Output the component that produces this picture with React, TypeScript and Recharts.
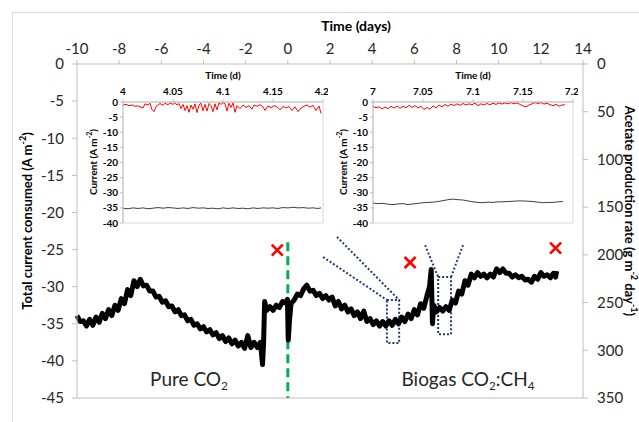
import React from 'react';
import {
  ComposedChart,
  LineChart,
  Line,
  Scatter,
  XAxis,
  YAxis,
  ReferenceLine,
  ReferenceArea,
} from 'recharts';

// total current consumed (A m-2) over time (days)
const totalCurrent: [number, number][] = [
  [-10.0, -33.9], [-9.85, -34.7], [-9.7, -34.6], [-9.55, -35.3], [-9.4, -34.4], [-9.25, -35.2],
  [-9.1, -34.1], [-8.95, -34.8], [-8.8, -33.6], [-8.65, -34.3], [-8.5, -33.1], [-8.35, -33.9],
  [-8.2, -32.5], [-8.05, -33.2], [-7.9, -31.6], [-7.75, -32.3], [-7.6, -30.4], [-7.45, -31.2],
  [-7.3, -29.2], [-7.15, -30.0], [-7.0, -29.0], [-6.85, -29.9], [-6.7, -29.8], [-6.55, -30.6],
  [-6.4, -30.6], [-6.25, -31.4], [-6.1, -31.3], [-5.95, -32.1], [-5.8, -31.9], [-5.65, -32.7],
  [-5.5, -32.6], [-5.35, -33.4], [-5.2, -33.1], [-5.05, -33.9], [-4.9, -33.8], [-4.75, -34.6],
  [-4.6, -34.4], [-4.45, -35.2], [-4.3, -35.0], [-4.15, -35.7], [-4.0, -35.4], [-3.85, -36.1],
  [-3.7, -35.8], [-3.55, -36.5], [-3.4, -36.2], [-3.25, -37.0], [-3.1, -36.6], [-2.95, -37.4],
  [-2.8, -36.9], [-2.65, -37.7], [-2.5, -37.2], [-2.35, -38.0], [-2.2, -37.5], [-2.05, -38.3],
  [-1.9, -36.6], [-1.75, -38.2], [-1.6, -37.5], [-1.45, -38.2], [-1.3, -37.5], [-1.2, -40.5],
  [-1.15, -37.5], [-1.1, -32.0], [-1.0, -33.2], [-0.85, -32.7], [-0.7, -33.2], [-0.55, -32.5],
  [-0.4, -32.8], [-0.25, -32.0], [-0.1, -32.2], [-0.02, -31.7], [0.02, -37.2], [0.08, -34.5],
  [0.15, -32.3], [0.3, -31.8], [0.45, -31.0], [0.6, -31.2], [0.75, -30.3], [0.9, -29.8],
  [1.05, -30.6], [1.2, -30.5], [1.35, -31.2], [1.5, -30.9], [1.65, -31.6], [1.8, -31.2],
  [1.95, -31.8], [2.1, -31.4], [2.25, -32.6], [2.4, -32.0], [2.55, -33.0], [2.7, -32.5],
  [2.85, -33.4], [3.0, -33.0], [3.15, -33.9], [3.3, -33.4], [3.45, -34.3], [3.6, -33.3],
  [3.75, -34.7], [3.9, -34.3], [4.05, -35.1], [4.2, -34.6], [4.35, -35.3], [4.5, -34.7],
  [4.65, -35.3], [4.8, -34.6], [4.95, -35.2], [5.1, -34.4], [5.25, -35.0], [5.4, -34.1],
  [5.55, -34.7], [5.7, -33.7], [5.85, -34.3], [6.0, -33.1], [6.15, -33.8], [6.3, -32.3],
  [6.45, -32.9], [6.6, -31.2], [6.72, -30.0], [6.8, -27.7], [6.86, -35.0], [6.92, -32.5],
  [7.05, -33.4], [7.2, -32.8], [7.35, -33.3], [7.5, -32.7], [7.65, -33.2], [7.8, -31.8],
  [7.95, -32.2], [8.1, -30.6], [8.25, -31.0], [8.4, -29.2], [8.55, -29.8], [8.7, -28.3],
  [8.85, -28.8], [9.0, -28.1], [9.15, -28.6], [9.3, -28.3], [9.45, -28.8], [9.6, -28.3],
  [9.75, -28.7], [9.9, -27.6], [10.05, -28.1], [10.2, -27.6], [10.35, -28.2], [10.5, -28.2],
  [10.65, -28.7], [10.8, -28.4], [10.95, -28.8], [11.1, -28.6], [11.25, -29.1], [11.4, -29.0],
  [11.55, -29.4], [11.7, -28.6], [11.85, -29.0], [12.0, -28.1], [12.15, -28.6], [12.3, -28.4],
  [12.45, -28.8], [12.6, -28.2], [12.7, -28.7], [12.75, -27.9],
];

// acetate production rate (g m-2 day-1), right axis
const acetateDays = [-0.5, 5.8, 12.7];
const acetateRate = [195, 208, 193];

// zoom windows drawn on the main trace
const zoomBoxes = [
  { x1: 4.7, x2: 5.28, y1: -37.6, y2: -31.8 },
  { x1: 7.13, x2: 7.74, y1: -36.4, y2: -28.7 },
];
const zoomLines = [
  [[1.67, -26.0], [4.7, -31.8]],
  [[2.33, -23.3], [5.28, -31.8]],
  [[6.51, -24.4], [7.13, -28.7]],
  [[8.31, -24.4], [7.74, -28.7]],
];

const dayTicks = [-10, -8, -6, -4, -2, 0, 2, 4, 6, 8, 10, 12, 14];
const currentTicks = [-45, -40, -35, -30, -25, -20, -15, -10, -5, 0];
const rateTicks = [0, 50, 100, 150, 200, 250, 300, 350];

// inset 1: day 4.0 - 4.2
const inset1Red: [number, number][] = [
  [4.0, -1.0], [4.003, -0.8], [4.006, -1.2], [4.009, -1.0], [4.012, -1.4], [4.015, -1.3],
  [4.018, -1.7], [4.02, -2.0], [4.022, -0.6], [4.025, -1.0], [4.027, -0.4], [4.029, -2.5],
  [4.031, -3.2], [4.033, -1.5], [4.035, -1.0], [4.037, -0.5], [4.04, -1.1], [4.042, -0.4],
  [4.045, -0.9], [4.047, -0.3], [4.05, -0.8], [4.052, -0.2], [4.054, -1.0], [4.056, -0.5],
  [4.058, -2.2], [4.06, -0.8], [4.062, -2.8], [4.064, -1.2], [4.066, -3.4], [4.068, -1.0],
  [4.07, -2.4], [4.072, -0.6], [4.074, -3.5], [4.076, -1.0], [4.078, -0.4], [4.08, -2.9],
  [4.082, -0.8], [4.084, -3.0], [4.086, -0.5], [4.088, -1.2], [4.09, -3.2], [4.092, -0.6],
  [4.094, -2.6], [4.096, -0.3], [4.098, -0.8], [4.1, -0.2], [4.102, -0.6], [4.104, -3.0],
  [4.106, -0.4], [4.108, -1.8], [4.11, -0.3], [4.112, -3.4], [4.114, -1.2], [4.117, -2.2],
  [4.12, -1.0], [4.123, -1.8], [4.126, -1.2], [4.129, -2.4], [4.131, -1.0], [4.134, -1.4],
  [4.137, -0.9], [4.14, -1.6], [4.142, -2.8], [4.145, -1.3], [4.148, -1.9], [4.151, -1.2],
  [4.154, -1.6], [4.157, -2.6], [4.16, -1.4], [4.163, -2.0], [4.166, -1.5], [4.169, -2.8],
  [4.172, -1.6], [4.175, -3.2], [4.178, -2.0], [4.181, -1.4], [4.184, -1.0], [4.187, -1.7],
  [4.19, -1.1], [4.193, -2.8], [4.196, -1.3], [4.198, -3.8],
];
const inset1Grey: [number, number][] = [
  [4.0, -35.1], [4.005, -35.3], [4.01, -35.0], [4.015, -35.2], [4.02, -35.0], [4.025, -35.3],
  [4.03, -35.1], [4.035, -34.9], [4.04, -35.1], [4.045, -34.9], [4.05, -35.0], [4.055, -35.2],
  [4.06, -35.0], [4.065, -35.2], [4.07, -34.9], [4.075, -35.1], [4.08, -35.0], [4.085, -35.2],
  [4.09, -35.1], [4.095, -35.3], [4.1, -35.0], [4.105, -35.2], [4.11, -35.0], [4.115, -35.2],
  [4.12, -35.1], [4.125, -35.3], [4.13, -35.0], [4.135, -35.2], [4.14, -35.0], [4.145, -35.1],
  [4.15, -35.0], [4.155, -35.2], [4.16, -34.9], [4.165, -35.0], [4.17, -34.8], [4.175, -35.0],
  [4.18, -34.9], [4.185, -35.1], [4.19, -35.0], [4.195, -35.2], [4.198, -35.0],
];

// inset 2: day 7.0 - 7.2
const inset2Red: [number, number][] = [
  [7.0, -1.5], [7.003, -1.9], [7.006, -1.6], [7.009, -2.3], [7.012, -1.7], [7.015, -2.2],
  [7.018, -1.4], [7.021, -2.0], [7.024, -1.3], [7.027, -2.1], [7.03, -1.4], [7.033, -1.9],
  [7.036, -1.1], [7.039, -1.8], [7.042, -1.2], [7.045, -2.0], [7.048, -1.4], [7.051, -2.5],
  [7.054, -1.8], [7.057, -2.4], [7.06, -1.3], [7.063, -1.9], [7.066, -1.0], [7.069, -1.6],
  [7.072, -0.8], [7.075, -1.4], [7.078, -0.7], [7.081, -1.2], [7.084, -0.6], [7.087, -1.1],
  [7.09, -0.5], [7.093, -1.0], [7.096, -0.6], [7.099, -0.9], [7.102, -0.4], [7.105, -1.2],
  [7.108, -0.6], [7.111, -1.0], [7.114, -0.5], [7.117, -0.9], [7.12, -0.4], [7.123, -0.8],
  [7.126, -0.3], [7.129, -0.7], [7.132, -0.3], [7.135, -0.6], [7.138, -0.2], [7.141, -0.6],
  [7.144, -0.3], [7.147, -0.8], [7.15, -1.3], [7.153, -1.6], [7.156, -1.0], [7.159, -0.6],
  [7.162, -0.2], [7.165, -0.5], [7.168, -0.2], [7.171, -0.7], [7.174, -0.4], [7.177, -0.9],
  [7.18, -1.2], [7.183, -0.8], [7.186, -1.4], [7.189, -1.0], [7.192, -0.9],
];
const inset2Grey: [number, number][] = [
  [7.0, -33.4], [7.005, -33.6], [7.01, -33.5], [7.015, -33.8], [7.02, -33.9], [7.025, -33.7],
  [7.03, -33.6], [7.035, -33.9], [7.04, -33.7], [7.045, -33.5], [7.05, -33.3], [7.055, -33.2],
  [7.06, -33.1], [7.065, -32.9], [7.07, -32.6], [7.075, -32.3], [7.08, -32.1], [7.085, -32.3],
  [7.09, -32.4], [7.095, -32.7], [7.1, -33.0], [7.105, -33.2], [7.11, -33.3], [7.115, -33.1],
  [7.12, -33.2], [7.125, -33.0], [7.13, -33.0], [7.135, -32.9], [7.14, -32.8], [7.145, -32.7],
  [7.15, -32.7], [7.155, -32.8], [7.16, -32.9], [7.165, -33.1], [7.17, -33.3], [7.175, -33.2],
  [7.18, -33.2], [7.185, -33.0], [7.19, -32.9],
];

const insetYTicks = [-40, -35, -30, -25, -20, -15, -10, -5, 0];

const toRows = (pts: [number, number][]) => pts.map(([t, v]) => ({ t, v }));

const FONT = 'Lato, "Open Sans", sans-serif';
const AXIS_GREY = '#bfbfbf';

const CrossMark = (props: any) => {
  const { cx, cy } = props;
  const s = 5.5;
  return (
    <path
      d={`M${cx - s},${cy - s}L${cx + s},${cy + s}M${cx - s},${cy + s}L${cx + s},${cy - s}`}
      stroke="#ff0000"
      strokeWidth={2.6}
      fill="none"
    />
  );
};

const sub = { fontSize: '0.62em', verticalAlign: '-0.3em' } as React.CSSProperties;
const sup = { fontSize: '0.7em' } as React.CSSProperties;

type InsetProps = {
  left: number;
  red: [number, number][];
  grey: [number, number][];
  ticks: number[];
  domain: [number, number];
};

const Inset = ({ left, red, grey, ticks, domain }: InsetProps) => (
  <div style={{ position: 'absolute', left, top: 62 }}>
    <LineChart width={250} height={171} margin={{ top: 0, right: 5, bottom: 10, left: 0 }}>
      <XAxis
        type="number"
        dataKey="t"
        orientation="top"
        domain={domain}
        ticks={ticks}
        allowDataOverflow
        height={40}
        stroke={AXIS_GREY}
        tickSize={3}
        tickMargin={4}
        tick={{ fill: '#000', fontSize: 10, fontWeight: 700, fontFamily: FONT }}
      />
      <YAxis
        domain={[-40, 0]}
        ticks={insetYTicks}
        width={45}
        stroke={AXIS_GREY}
        tickSize={3}
        tickMargin={2}
        interval={0}
        tick={{ fill: '#000', fontSize: 10, fontWeight: 700, fontFamily: FONT }}
      />
      <ReferenceArea
        x1={domain[0]}
        x2={domain[1]}
        y1={-40}
        y2={0}
        fill="none"
        stroke="#d9d9d9"
      />
      <Line
        data={toRows(grey)}
        dataKey="v"
        stroke="#404040"
        strokeWidth={1}
        dot={false}
        isAnimationActive={false}
      />
      <Line
        data={toRows(red)}
        dataKey="v"
        stroke="#ff0000"
        strokeWidth={1}
        dot={false}
        isAnimationActive={false}
      />
    </LineChart>
    <div
      style={{
        position: 'absolute',
        left: 145,
        top: 13,
        transform: 'translate(-50%, -50%)',
        fontFamily: FONT,
        fontSize: 10,
        fontWeight: 700,
        whiteSpace: 'nowrap',
      }}
    >
      Time (d)
    </div>
    <div
      style={{
        position: 'absolute',
        left: 14,
        top: 100,
        transform: 'translate(-50%, -50%) rotate(-90deg)',
        fontFamily: FONT,
        fontSize: 10,
        fontWeight: 700,
        whiteSpace: 'nowrap',
      }}
    >
      Current (A m<sup style={sup}>-2</sup>)
    </div>
  </div>
);

const App = () => {
  const mainRows = toRows(totalCurrent);
  const acetateRows = acetateDays.map((t, i) => ({ t, r: acetateRate[i] }));
  const tickStyle = { fill: '#262626', fontSize: 15, fontFamily: FONT };

  return (
    <div
      style={{
        position: 'absolute',
        left: 0,
        top: 0,
        width: 639,
        height: 422,
        background: '#fff',
        overflow: 'hidden',
        fontFamily: FONT,
      }}
    >
      <div
        style={{
          position: 'absolute',
          left: 12,
          top: 12,
          width: 700,
          height: 500,
          border: '1px solid #d9d9d9',
        }}
      />
      <div style={{ position: 'absolute', left: 0, top: 0 }}>
        <ComposedChart width={639} height={422} margin={{ top: 0, right: 0, bottom: 24, left: 0 }}>
          <XAxis
            type="number"
            dataKey="t"
            orientation="top"
            domain={[-10, 14]}
            ticks={dayTicks}
            height={64}
            stroke={AXIS_GREY}
            tickSize={4}
            tickMargin={6}
            tick={tickStyle}
          />
          <YAxis
            yAxisId="l"
            domain={[-45, 0]}
            ticks={currentTicks}
            interval={0}
            width={77}
            stroke={AXIS_GREY}
            tickSize={5}
            tickMargin={8}
            tick={tickStyle}
          />
          <YAxis
            yAxisId="r"
            orientation="right"
            domain={[0, 350]}
            reversed
            ticks={rateTicks}
            interval={0}
            width={56}
            stroke={AXIS_GREY}
            tickSize={5}
            tickMargin={9}
            tick={tickStyle}
          />
          <ReferenceLine yAxisId="l" y={-45} stroke={AXIS_GREY} />
          <ReferenceLine
            yAxisId="l"
            segment={[
              { x: 0, y: -24 },
              { x: 0, y: -45 },
            ]}
            stroke="#00b050"
            strokeWidth={3}
            strokeDasharray="9 5"
          />
          {zoomLines.map((seg, i) => (
            <ReferenceLine
              key={`zl${i}`}
              yAxisId="l"
              segment={[
                { x: seg[0][0], y: seg[0][1] },
                { x: seg[1][0], y: seg[1][1] },
              ]}
              stroke="#1f3a7a"
              strokeWidth={2}
              strokeDasharray="2 2"
            />
          ))}
          <Line
            yAxisId="l"
            data={mainRows}
            dataKey="v"
            stroke="#000"
            strokeWidth={5}
            strokeLinejoin="round"
            dot={false}
            isAnimationActive={false}
          />
          {zoomBoxes.map((b, i) => (
            <ReferenceArea
              key={`zb${i}`}
              yAxisId="l"
              x1={b.x1}
              x2={b.x2}
              y1={b.y1}
              y2={b.y2}
              fill="none"
              fillOpacity={0}
              stroke="#1f3a7a"
              strokeWidth={2}
              strokeDasharray="2 2"
            />
          ))}
          <Scatter
            yAxisId="r"
            data={acetateRows}
            dataKey="r"
            shape={CrossMark}
            isAnimationActive={false}
          />
        </ComposedChart>
      </div>

      <Inset left={78} red={inset1Red} grey={inset1Grey} ticks={[4, 4.05, 4.1, 4.15, 4.2]} domain={[4, 4.2]} />
      <Inset left={328} red={inset2Red} grey={inset2Grey} ticks={[7, 7.05, 7.1, 7.15, 7.2]} domain={[7, 7.2]} />

      <div
        style={{
          position: 'absolute',
          left: 356,
          top: 25,
          transform: 'translate(-50%, -50%)',
          fontSize: 14,
          fontWeight: 700,
          whiteSpace: 'nowrap',
        }}
      >
        Time (days)
      </div>
      <div
        style={{
          position: 'absolute',
          left: 26,
          top: 221,
          transform: 'translate(-50%, -50%) rotate(-90deg)',
          fontSize: 13,
          fontWeight: 700,
          whiteSpace: 'nowrap',
        }}
      >
        Total current consumed (A m<sup style={sup}>-2</sup>)
      </div>
      <div
        style={{
          position: 'absolute',
          left: 631,
          top: 211,
          transform: 'translate(-50%, -50%) rotate(90deg)',
          fontSize: 13,
          fontWeight: 700,
          whiteSpace: 'nowrap',
        }}
      >
        Acetate production rate (g m<sup style={sup}>-2</sup> day<sup style={sup}>-1</sup>)
      </div>
      <div
        style={{
          position: 'absolute',
          left: 189,
          top: 380,
          transform: 'translate(-50%, -50%)',
          fontSize: 19,
          color: '#262626',
          whiteSpace: 'nowrap',
        }}
      >
        Pure CO<span style={sub}>2</span>
      </div>
      <div
        style={{
          position: 'absolute',
          left: 468,
          top: 380,
          transform: 'translate(-50%, -50%)',
          fontSize: 19,
          color: '#262626',
          whiteSpace: 'nowrap',
        }}
      >
        Biogas CO<span style={sub}>2</span>:CH<span style={sub}>4</span>
      </div>
    </div>
  );
};

export default App;
